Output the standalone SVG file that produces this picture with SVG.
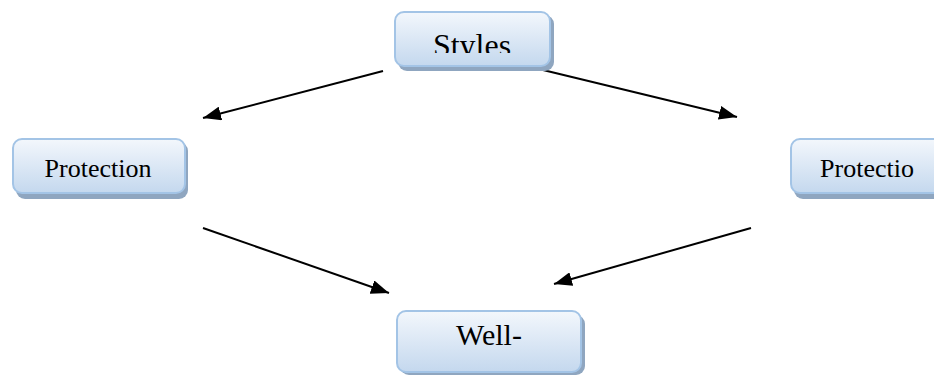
<svg xmlns="http://www.w3.org/2000/svg" width="934" height="378" viewBox="0 0 934 378">
  <defs>
    <linearGradient id="boxFill" x1="0" y1="0" x2="0" y2="1">
      <stop offset="0" stop-color="#f3f7fc"/>
      <stop offset="1" stop-color="#c4d8ee"/>
    </linearGradient>
    <marker id="arrow" viewBox="0 0 18 14" refX="18" refY="7" markerWidth="18" markerHeight="14" markerUnits="userSpaceOnUse" orient="auto">
      <path d="M0,0 L18,7 L0,14 z" fill="#000"/>
    </marker>
    <clipPath id="stylesClip">
      <rect x="390" y="0" width="170" height="53"/>
    </clipPath>
  </defs>
  <style>
    .shadow { fill: #8fa6c0; }
    .box { fill: url(#boxFill); stroke: #a3c4e6; stroke-width: 2; }
    .label { font-family: "Liberation Serif", "Times New Roman", serif; fill: #000; text-anchor: middle; }
    .conn { stroke: #000; stroke-width: 2; fill: none; marker-end: url(#arrow); }
  </style>

  <g id="connectors">
    <line class="conn" x1="383" y1="71" x2="203" y2="118"/>
    <line class="conn" x1="543" y1="70" x2="737" y2="117"/>
    <line class="conn" x1="203" y1="228" x2="389" y2="293"/>
    <line class="conn" x1="751" y1="228" x2="554" y2="284"/>
  </g>

  <g id="styles">
    <rect class="shadow" x="398" y="15" width="156" height="56" rx="9"/>
    <rect class="box" x="395" y="12" width="155" height="54" rx="9"/>
    <text class="label" x="472" y="56" font-size="32" clip-path="url(#stylesClip)">Styles</text>
  </g>

  <g id="protection-left">
    <rect class="shadow" x="16" y="142" width="172" height="57" rx="9"/>
    <rect class="box" x="13" y="139" width="172" height="54" rx="9"/>
    <text class="label" x="98" y="177" font-size="26">Protection</text>
  </g>

  <g id="protection-right">
    <rect class="shadow" x="794" y="142" width="160" height="57" rx="9"/>
    <rect class="box" x="791" y="139" width="160" height="54" rx="9"/>
    <text class="label" x="867" y="177" font-size="26">Protectio</text>
  </g>

  <g id="well">
    <rect class="shadow" x="400" y="315" width="185" height="60" rx="9"/>
    <rect class="box" x="397" y="311" width="184" height="61" rx="9"/>
    <text class="label" x="489" y="345" font-size="30">Well-</text>
  </g>
</svg>
